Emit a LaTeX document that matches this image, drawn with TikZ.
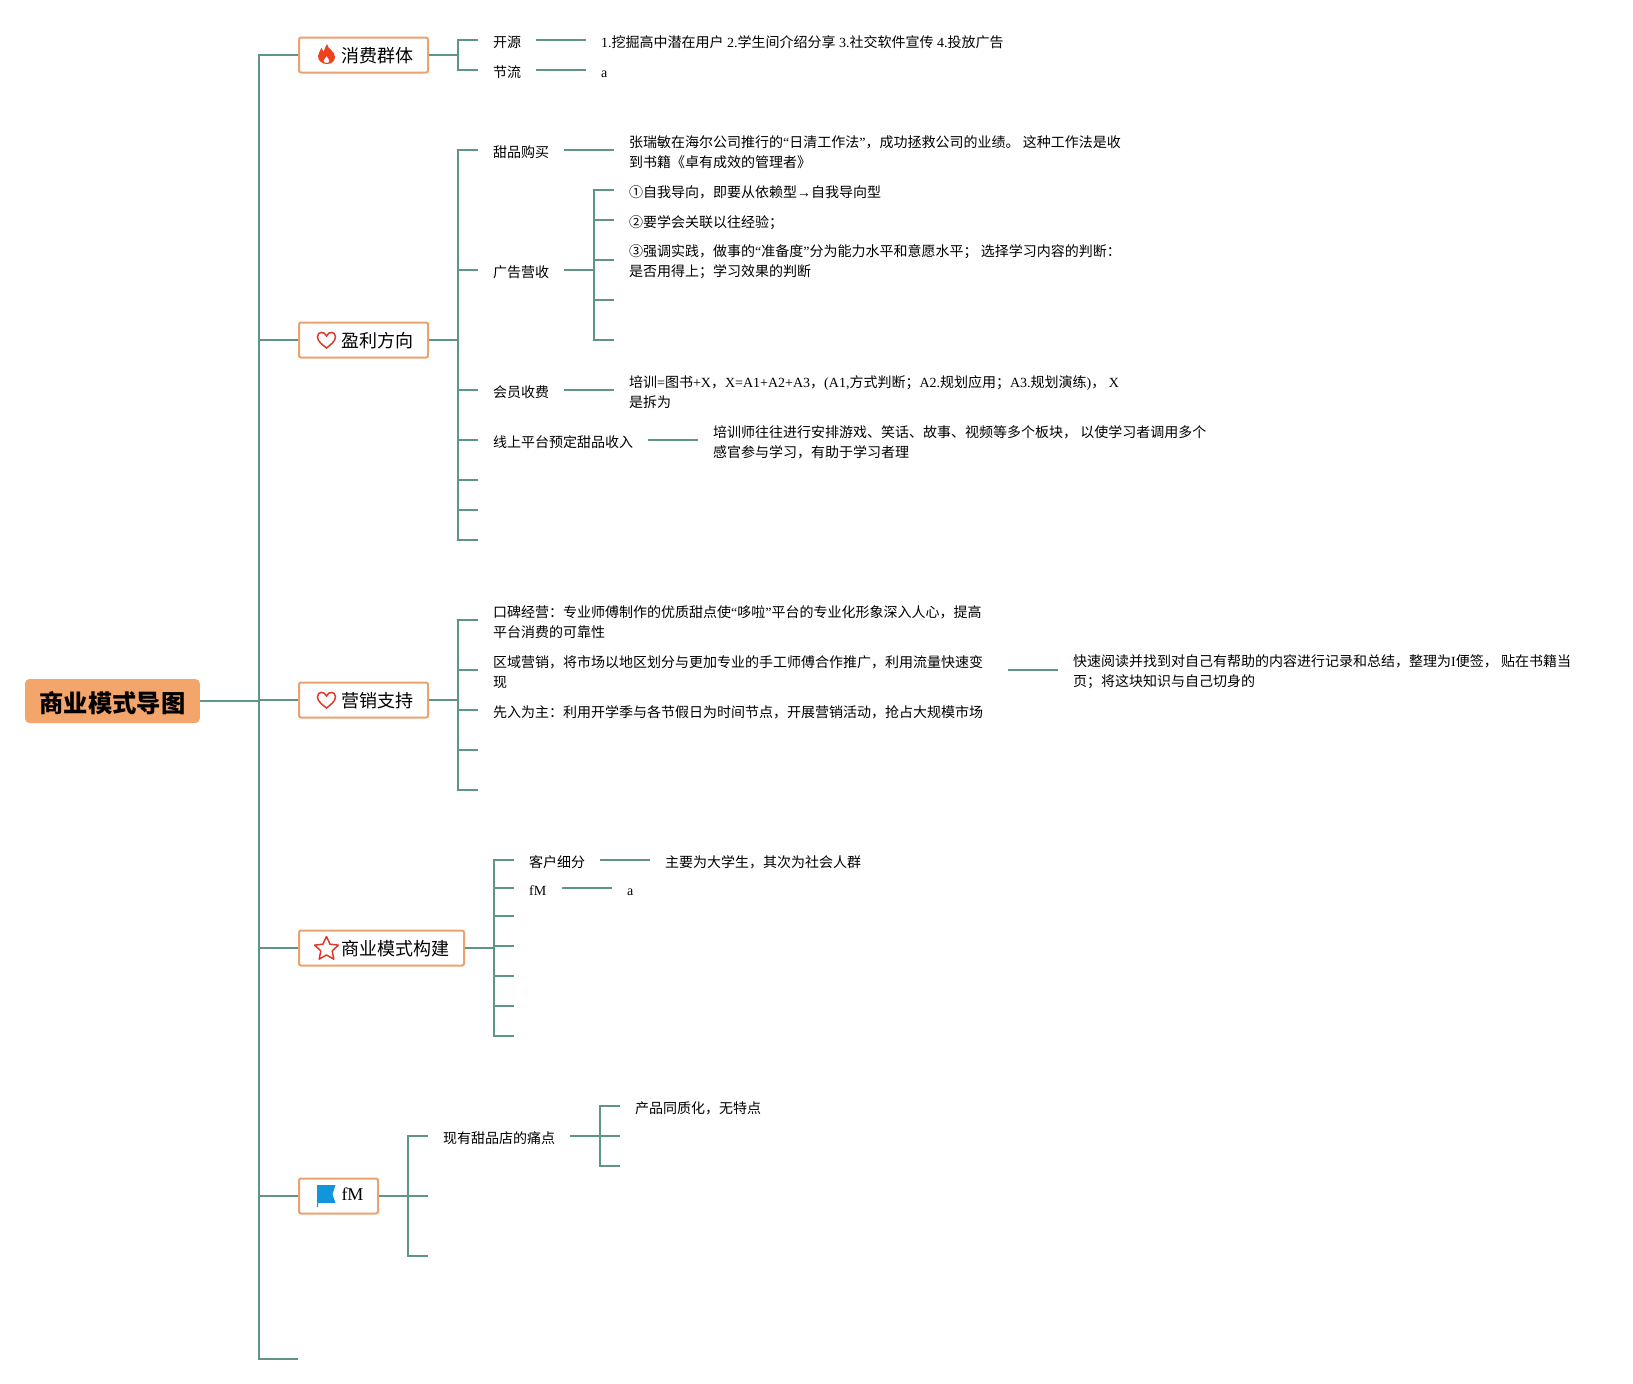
\documentclass[tikz,border=0pt]{standalone}
\usepackage{fontspec}
\setmainfont{Noto Sans CJK SC}
\newfontfamily\latfont{Liberation Serif}
\newcommand{\lat}[1]{{\latfont #1}}
\definecolor{connCol}{HTML}{5F9488}
\definecolor{boxCol}{HTML}{EBA26F}
\definecolor{rootCol}{HTML}{F4A56C}
\definecolor{iconRed}{HTML}{E0392B}
\definecolor{flameCol}{HTML}{F0401E}
\definecolor{iconBlue}{HTML}{1296DB}
\tikzset{
	conn/.style = {draw=connCol, line width=2.2pt},
	roottopic/.style = {draw=rootCol, fill=rootCol, rounded corners=4pt, line width=1pt, inner xsep=14pt, minimum height=43pt, font=\fontsize{24.3}{28}\selectfont\bfseries, execute at begin node={\rule[-3pt]{0pt}{28pt}}},
	branchbox/.style = {draw=boxCol, fill=white, rounded corners=2pt, line width=2pt, inner xsep=14.5pt, inner ysep=0pt, minimum height=35pt, font=\fontsize{18}{22}\selectfont, execute at begin node={\rule[-2.5pt]{0pt}{19pt}}},
	leafbase/.style = {anchor=west, inner xsep=15pt, inner ysep=0pt, align=left, font=\fontsize{14}{20}\selectfont},
	leaf/.style = {leafbase, execute at begin node={\rule[-4pt]{0pt}{23.5pt}}},
	leaftwo/.style = {leafbase, execute at begin node={\rule{0pt}{36pt}}}
}
\newcommand{\iconFlame}[2]{\fill[flameCol, even odd rule, shift={(#1,#2)}] (0.5,-10) .. controls (1,-5) and (8.5,-3) .. (8.5,3) .. controls (8.5,8) and (4,10) .. (0,10) .. controls (-4,10) and (-8.5,7) .. (-8.5,2) .. controls (-8.5,-1) and (-6,-3) .. (-5,-6) .. controls (-4,-4) and (-3.5,-3) .. (-3,-2) .. controls (-2,-5) and (-1,-7) .. (0.5,-10) -- cycle (0,2) .. controls (-1,4) and (-3,5) .. (-3,7) .. controls (-3,8.5) and (-1,9) .. (0,9) .. controls (1,9) and (3,8.5) .. (3,7) .. controls (3,5) and (1,4) .. (0,2) -- cycle;}
\newcommand{\iconHeart}[2]{\draw[iconRed, line width=1.5pt, shift={(#1,#2)}] (0,8) .. controls (-4,5) and (-9,1) .. (-9,-3) .. controls (-9,-9) and (-2,-9) .. (0,-4) .. controls (2,-9) and (9,-9) .. (9,-3) .. controls (9,1) and (4,5) .. (0,8) -- cycle;}
\newcommand{\iconStar}[2]{\draw[iconRed, line width=1.5pt, line join=round, shift={(#1,#2)}] (-90:12.5) -- (-54:6) -- (-18:12.5) -- (18:6) -- (54:12.5) -- (90:6) -- (126:12.5) -- (162:6) -- (198:12.5) -- (234:6) -- cycle;}
\newcommand{\iconFlag}[2]{\fill[iconBlue, shift={(#1,#2)}] (-9.5,-10) -- (9,-10) -- (6,-1) -- (9,8) -- (-8.5,8) -- (-8.5,12) -- (-9.5,12) -- cycle;}

\begin{document}
\begin{tikzpicture}[x=1pt, y=-1pt]
	\useasboundingbox (0,0) rectangle (1633,1384);

	% root and the main spine
	\node[roottopic, anchor=north west] (root) at (25,679) {商业模式导图};
	\coordinate (spine) at (259,700);
	\coordinate (spineEnd) at (298,1359);

	% branches
	\node[branchbox, anchor=west] (xiaofei) at (298,55) {\hspace{28pt}消费群体};
	\node[branchbox, anchor=west] (yingli) at (298,340) {\hspace{28pt}盈利方向};
	\node[branchbox, anchor=west] (yingxiao) at (298,700) {\hspace{28pt}营销支持};
	\node[branchbox, anchor=west] (moshi) at (298,948) {\hspace{28pt}商业模式构建};
	\node[branchbox, anchor=west] (fmbox) at (298,1196) {\hspace{28pt}\raisebox{2.5pt}{\lat{fM}}};

	% icons
	\iconFlame{326.5}{54}
	\iconHeart{326.5}{340}
	\iconHeart{326.5}{700}
	\iconStar{326.5}{949}
	\iconFlag{326.5}{1195}

	% main spine connectors
	\draw[conn] (root.east) -- (root.east -| spine);
	\draw[conn] (xiaofei.west) -- (xiaofei.west -| spine) -- (spine |- spineEnd) -- (spineEnd);
	\draw[conn] (yingli.west) -- (yingli.west -| spine);
	\draw[conn] (yingxiao.west) -- (yingxiao.west -| spine);
	\draw[conn] (moshi.west) -- (moshi.west -| spine);
	\draw[conn] (fmbox.west) -- (fmbox.west -| spine);

	% xiaofei
	\coordinate (spineA) at (458,55);
	\node[leaf] (kaiyuan) at (478,40) {开源};
	\node[leaf] (jieliu) at (478,70) {节流};
	\node[leaf] (kaiyuanText) at (586,40) {\lat{1.}挖掘高中潜在用户\lat{ 2.}学生间介绍分享\lat{ 3.}社交软件宣传\lat{ 4.}投放广告};
	\node[leaf] (jieliuText) at (586,70) {\lat{a}};
	\draw[conn] (xiaofei.east) -- (spineA);
	\draw[conn] (kaiyuan.west) -- (kaiyuan.west -| spineA) -- (jieliu.west -| spineA) -- (jieliu.west);
	\draw[conn] (kaiyuan.east) -- (kaiyuanText.west);
	\draw[conn] (jieliu.east) -- (jieliuText.west);

	% yingli
	\coordinate (spineB) at (458,340);
	\node[leaf] (tianpin) at (478,150) {甜品购买};
	\node[leaf] (guanggao) at (478,270) {广告营收};
	\node[leaf] (huiyuan) at (478,390) {会员收费};
	\node[leaf] (xianshang) at (478,440) {线上平台预定甜品收入};
	\coordinate (emptyB1) at (478,480);
	\coordinate (emptyB2) at (478,510);
	\coordinate (emptyB3) at (478,540);
	\node[leaftwo] (tianpinText) at (614,150) {张瑞敏在海尔公司推行的\lat{“}日清工作法\lat{”}，成功拯救公司的业绩。 这种工作法是收\\到书籍《卓有成效的管理者》};
	\node[leaftwo] (huiyuanText) at (614,390) {培训\lat{=}图书\lat{+X}，\lat{X=A1+A2+A3}，\lat{(A1,}方式判断；\lat{A2.}规划应用；\lat{A3.}规划演练\lat{)}，\lat{ X}\\是拆为};
	\node[leaftwo] (xianshangText) at (698,440) {培训师往往进行安排游戏、笑话、故事、视频等多个板块， 以使学习者调用多个\\感官参与学习，有助于学习者理};
	\draw[conn] (yingli.east) -- (spineB);
	\draw[conn] (tianpin.west) -- (tianpin.west -| spineB) -- (emptyB3 -| spineB) -- (emptyB3);
	\foreach \n in {guanggao.west, huiyuan.west, xianshang.west, emptyB1, emptyB2}
		\draw[conn] (\n -| spineB) -- (\n);
	\draw[conn] (tianpin.east) -- (tianpinText.west);
	\draw[conn] (huiyuan.east) -- (huiyuanText.west);
	\draw[conn] (xianshang.east) -- (xianshangText.west);

	% guanggao children
	\coordinate (spineC) at (594,270);
	\node[leaf] (ziwo) at (614,190) {①自我导向，即要从依赖型\lat{→}自我导向型};
	\node[leaf] (guanlian) at (614,220) {②要学会关联以往经验；};
	\node[leaftwo] (shijian) at (614,260) {③强调实践，做事的\lat{“}准备度\lat{”}分为能力水平和意愿水平； 选择学习内容的判断：\\是否用得上；学习效果的判断};
	\coordinate (emptyC1) at (614,300);
	\coordinate (emptyC2) at (614,340);
	\draw[conn] (guanggao.east) -- (spineC);
	\draw[conn] (ziwo.west) -- (ziwo.west -| spineC) -- (emptyC2 -| spineC) -- (emptyC2);
	\foreach \n in {guanlian.west, shijian.west, emptyC1}
		\draw[conn] (\n -| spineC) -- (\n);

	% yingxiao
	\coordinate (spineD) at (458,700);
	\node[leaftwo] (koubei) at (478,620) {口碑经营：专业师傅制作的优质甜点使\lat{“}哆啦\lat{”}平台的专业化形象深入人心，提高\\平台消费的可靠性};
	\node[leaftwo] (quyu) at (478,670) {区域营销，将市场以地区划分与更加专业的手工师傅合作推广，利用流量快速变\\现};
	\node[leaf] (xianru) at (478,710) {先入为主：利用开学季与各节假日为时间节点，开展营销活动，抢占大规模市场};
	\coordinate (emptyD1) at (478,750);
	\coordinate (emptyD2) at (478,790);
	\node[leaftwo] (quyuText) at (1058,670) {快速阅读并找到对自己有帮助的内容进行记录和总结，整理为\lat{I}便签， 贴在书籍当\\页；将这块知识与自己切身的};
	\draw[conn] (yingxiao.east) -- (spineD);
	\draw[conn] (koubei.west) -- (koubei.west -| spineD) -- (emptyD2 -| spineD) -- (emptyD2);
	\foreach \n in {quyu.west, xianru.west, emptyD1}
		\draw[conn] (\n -| spineD) -- (\n);
	\draw[conn] ([xshift=10pt]quyu.east) -- (quyuText.west);

	% moshi
	\coordinate (spineE) at (494,948);
	\node[leaf] (kehu) at (514,860) {客户细分};
	\node[leaf] (fmleaf) at (514,888) {\lat{fM}};
	\coordinate (emptyE1) at (514,916);
	\coordinate (emptyE2) at (514,946);
	\coordinate (emptyE3) at (514,976);
	\coordinate (emptyE4) at (514,1006);
	\coordinate (emptyE5) at (514,1036);
	\node[leaf] (kehuText) at (650,860) {主要为大学生，其次为社会人群};
	\node[leaf] (fmleafText) at (612,888) {\lat{a}};
	\draw[conn] (moshi.east) -- (spineE);
	\draw[conn] (kehu.west) -- (kehu.west -| spineE) -- (emptyE5 -| spineE) -- (emptyE5);
	\foreach \n in {fmleaf.west, emptyE1, emptyE2, emptyE3, emptyE4}
		\draw[conn] (\n -| spineE) -- (\n);
	\draw[conn] (kehu.east) -- (kehuText.west);
	\draw[conn] (fmleaf.east) -- (fmleafText.west);

	% fM
	\coordinate (spineF) at (408,1196);
	\node[leaf] (tongdian) at (428,1136) {现有甜品店的痛点};
	\coordinate (emptyF1) at (428,1196);
	\coordinate (emptyF2) at (428,1256);
	\draw[conn] (fmbox.east) -- (emptyF1);
	\draw[conn] (tongdian.west) -- (tongdian.west -| spineF) -- (emptyF2 -| spineF) -- (emptyF2);

	% tongdian children
	\coordinate (spineG) at (600,1136);
	\node[leaf] (tongzhi) at (620,1106) {产品同质化，无特点};
	\coordinate (emptyG1) at (620,1136);
	\coordinate (emptyG2) at (620,1166);
	\draw[conn] (tongdian.east) -- (emptyG1);
	\draw[conn] (tongzhi.west) -- (tongzhi.west -| spineG) -- (emptyG2 -| spineG) -- (emptyG2);
\end{tikzpicture}
\end{document}
